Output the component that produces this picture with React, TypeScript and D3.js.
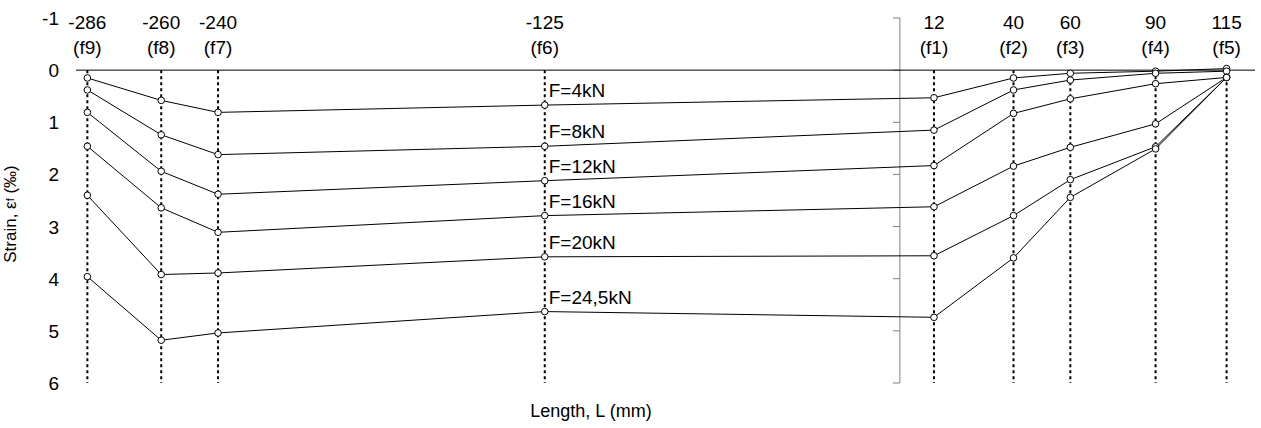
import React from 'react';
import * as d3 from 'd3';

// gauge positions along the length (mm) and their names
const positions = [-286, -260, -240, -125, 12, 40, 60, 90, 115];
const gauges = ['f9', 'f8', 'f7', 'f6', 'f1', 'f2', 'f3', 'f4', 'f5'];
const yTicks = [-1, 0, 1, 2, 3, 4, 5, 6];

// strain (‰) per load level, same order as positions
const loadLabels = ['F=4kN', 'F=8kN', 'F=12kN', 'F=16kN', 'F=20kN', 'F=24,5kN'];
const strain4 = [0.15, 0.58, 0.81, 0.67, 0.53, 0.15, 0.06, 0.02, -0.03];
const strain8 = [0.38, 1.24, 1.62, 1.46, 1.15, 0.38, 0.19, 0.06, 0.02];
const strain12 = [0.81, 1.94, 2.38, 2.12, 1.83, 0.83, 0.55, 0.26, 0.14];
const strain16 = [1.46, 2.64, 3.11, 2.79, 2.62, 1.84, 1.48, 1.03, 0.14];
const strain20 = [2.4, 3.92, 3.89, 3.58, 3.56, 2.79, 2.1, 1.47, 0.14];
const strain245 = [3.96, 5.18, 5.04, 4.63, 4.74, 3.6, 2.44, 1.51, 0.14];
const allSeries = [strain4, strain8, strain12, strain16, strain20, strain245];

const WIDTH = 1261;
const HEIGHT = 428;
const font = 'Arial, "Liberation Sans", sans-serif';

export default function App() {
  const xScale = d3.scaleLinear().domain([-290, 125]).range([76, 1255]);
  const yScale = d3.scaleLinear().domain([-1, 6]).range([18, 383]);

  const line = d3
    .line<number>()
    .x((d, i) => xScale(positions[i]))
    .y((d) => yScale(d));

  const labelIdx = 3; // labels sit next to the f6 point

  return (
    <svg
      width={WIDTH}
      height={HEIGHT}
      style={{ position: 'absolute', left: 0, top: 0, background: '#fff' }}
      fontFamily={font}
    >
      {/* dotted drop lines */}
      {positions.map((p) => (
        <line
          key={'d' + p}
          x1={xScale(p)}
          x2={xScale(p)}
          y1={yScale(0)}
          y2={yScale(6)}
          stroke="#000"
          strokeWidth={2}
          strokeDasharray="3,3"
        />
      ))}

      {/* y axis crossing at x = 0 */}
      <line x1={xScale(0)} x2={xScale(0)} y1={yScale(-1)} y2={yScale(6)} stroke="#808080" strokeWidth={1} />
      {yTicks.map((t) => (
        <line key={'t' + t} x1={xScale(0) - 7} x2={xScale(0)} y1={yScale(t)} y2={yScale(t)} stroke="#808080" />
      ))}
      {yTicks.map((t) => (
        <text key={'yl' + t} x={59} y={yScale(t) + 7} fontSize={19} textAnchor="end" fill="#000">
          {t}
        </text>
      ))}

      {/* x axis at strain 0 */}
      <line x1={xScale(-290)} x2={xScale(125)} y1={yScale(0)} y2={yScale(0)} stroke="#000" />

      {/* top position labels */}
      {positions.map((p, i) => (
        <g key={'xl' + p} fontSize={19} textAnchor="middle" fill="#000">
          <text x={xScale(p)} y={29}>{p}</text>
          <text x={xScale(p)} y={54}>({gauges[i]})</text>
        </g>
      ))}

      {/* series */}
      {allSeries.map((s, k) => (
        <g key={'s' + k}>
          <path d={line(s) || ''} fill="none" stroke="#000" strokeWidth={1} />
          {s.map((v, i) => (
            <circle key={i} cx={xScale(positions[i])} cy={yScale(v)} r={3.3} fill="#fff" stroke="#000" strokeWidth={1} />
          ))}
          <text x={xScale(positions[labelIdx]) + 4} y={yScale(s[labelIdx]) - 8} fontSize={19} fill="#000">
            {loadLabels[k]}
          </text>
        </g>
      ))}

      {/* axis titles */}
      <text x={591} y={417} fontSize={18} textAnchor="middle" fill="#000">
        Length, L (mm)
      </text>
      <text transform="translate(16,214) rotate(-90)" fontSize={17} textAnchor="middle" fill="#000">
        Strain, ε<tspan fontSize={11} dy={-2}>f</tspan>
        <tspan dy={2}> (‰)</tspan>
      </text>
    </svg>
  );
}
